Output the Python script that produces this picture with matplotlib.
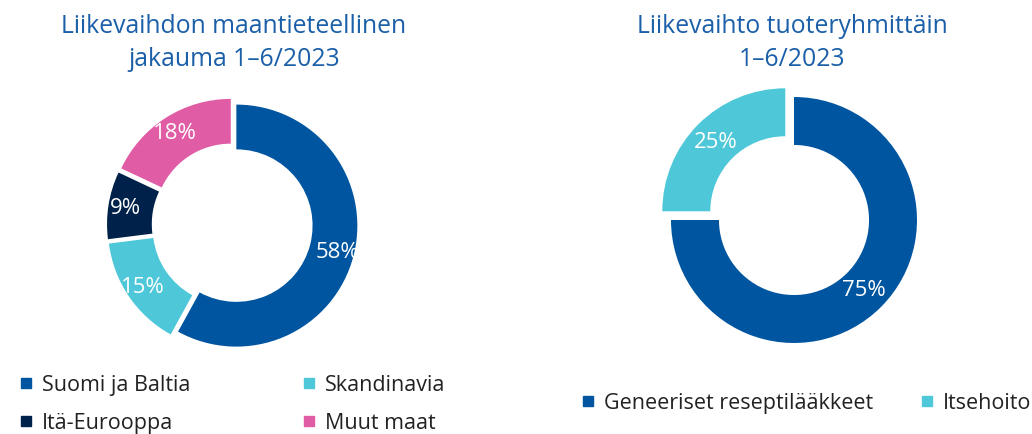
import matplotlib
matplotlib.use("Agg")
import matplotlib.pyplot as plt
from matplotlib.lines import Line2D

plt.rcParams['font.family'] = ['Open Sans', 'DejaVu Sans']

# Data
geo_title = "Liikevaihdon maantieteellinen\njakauma 1–6/2023"
geo_labels = ["Suomi ja Baltia", "Skandinavia", "Itä-Eurooppa", "Muut maat"]
geo_values = [58, 15, 9, 18]
geo_colors = ["#0055A0", "#4EC8D8", "#00224A", "#E05CA5"]

prod_title = "Liikevaihto tuoteryhmittäin\n1–6/2023"
prod_labels = ["Geneeriset reseptilääkkeet", "Itsehoito"]
prod_values = [75, 25]
prod_colors = ["#0055A0", "#4EC8D8"]

title_color = "#1A5FA8"
W, H = 1032, 435
fig = plt.figure(figsize=(W / 100, H / 100), dpi=100)

L = 1.3

def make_ax(cx, cy, r):
    S = 2 * L * r
    ax = fig.add_axes([(cx - S / 2) / W, (H - cy - S / 2) / H, S / W, S / H])
    return ax

def finish(ax):
    ax.set_xlim(-L, L)
    ax.set_ylim(-L, L)
    ax.set_aspect('equal')
    ax.axis('off')

ax1 = make_ax(234, 226, 121)
w1, t1, a1 = ax1.pie(geo_values, colors=geo_colors, startangle=90, counterclock=False,
                     explode=[0.02, 0.05, 0.05, 0.05], radius=1.0,
                     wedgeprops=dict(width=0.37, linewidth=0),
                     autopct=lambda p: f"{p:.0f}%", pctdistance=0.86,
                     textprops=dict(color="white", fontsize=16))
finish(ax1)

ax2 = make_ax(794, 221, 123)
w2, t2, a2 = ax2.pie(prod_values, colors=prod_colors, startangle=90, counterclock=False,
                     explode=[0.0, 0.10], radius=1.0,
                     wedgeprops=dict(width=0.39, linewidth=0),
                     autopct=lambda p: f"{p:.0f}%", pctdistance=0.8,
                     textprops=dict(color="white", fontsize=16))
finish(ax2)

fig.text(234 / W, 1 - 43 / H, geo_title, ha='center', va='center', color=title_color,
         fontsize=17.8, linespacing=1.45)
fig.text(792 / W, 1 - 43 / H, prod_title, ha='center', va='center', color=title_color,
         fontsize=17.8, linespacing=1.45)

def handles(colors):
    return [Line2D([], [], marker='s', linestyle='none', markersize=7,
                   markerfacecolor=c, markeredgecolor=c) for c in colors]

# row-major ordering for a 2-column legend
order = [0, 2, 1, 3]
leg1 = fig.legend([handles(geo_colors)[i] for i in order], [geo_labels[i] for i in order],
                  ncol=2, loc='upper left',
                  bbox_to_anchor=(0 / W, 1 - 356 / H), frameon=False, fontsize=15.5,
                  handlelength=0.6, handletextpad=0.45, columnspacing=5.2,
                  labelspacing=0.78, labelcolor="#222222")
leg2 = fig.legend(handles(prod_colors), prod_labels, ncol=2, loc='upper left',
                  bbox_to_anchor=(562 / W, 1 - 374 / H), frameon=False, fontsize=15.5,
                  handlelength=0.6, handletextpad=0.45, columnspacing=2.2,
                  labelcolor="#222222")

fig.savefig("out.png", dpi=100, facecolor="white")
